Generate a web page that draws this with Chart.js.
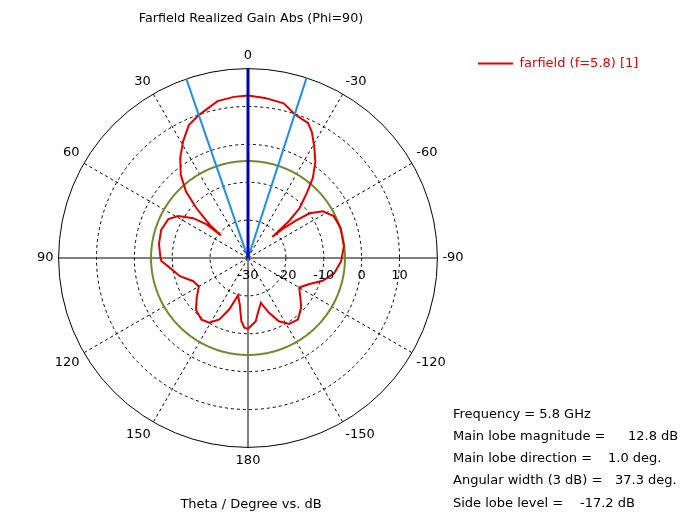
<!DOCTYPE html>
<html><head><meta charset="utf-8">
<script src="https://cdn.jsdelivr.net/npm/chart.js@4.4.1/dist/chart.umd.min.js"></script>
<style>html,body{margin:0;padding:0;background:#fff;}#wrap{width:684px;height:521px;position:relative;}</style>
</head><body><div id="wrap"><canvas id="c"></canvas></div>
<script>
// ---- data (theta in degrees, counter-clockwise positive; gain in dB) ----
const thetaDeg = [0,-6,-13,-18,-24,-27,-31,-35,-39,-42,-46,-48,-49,-50,-52,-54,-58,-64,-72,-83,-92,-100,-107,-113,-120,-127,-133,-141,-148,-154,-159,-164,-169,-173,
  180,177,174,170,165,160,155,149,143,135,128,120,113,105,96,92,90,81,72,64,59,54,51,50,49,46,43,39,34,29,24,19,11,5];
const gainDb   = [12.9,12.5,11.9,9.9,9.0,7.2,4.0,1.0,-2.8,-6.7,-11.1,-15.4,-21.5,-18.2,-14.0,-9.9,-6.7,-4.8,-4.3,-4.5,-5.4,-6.9,-9.4,-12.4,-14.4,-12.7,-10.8,-9.1,-9.5,-11.4,-14.5,-17.7,-15.7,-13.2,
  -11.3,-11.6,-13.2,-17.5,-19.8,-15.6,-12.1,-10.1,-9.6,-10.6,-12.8,-15.0,-14.3,-11.4,-8.8,-7.1,-6.9,-6.2,-5.9,-6.6,-8.5,-12.1,-15.8,-20.7,-16.6,-11.0,-6.0,-1.8,2.0,5.3,8.4,9.9,12.2,12.7];
const sideLobeLevelDb = -4.4;
const mainLobeDirDeg = [0];
const beamEdgeDeg = [19, -18];
const radialTicks = [-30, -20, -10, 0, 10];
const radialMin = -30, radialMax = 20, radialStep = 10;
const angleStep = 30;
const legendLabel = 'farfield (f=5.8) [1]';
const chartTitle = 'Farfield Realized Gain Abs (Phi=90)';
const axisTitle = 'Theta / Degree vs. dB';
const statLabels = ['Frequency = 5.8 GHz', 'Main lobe magnitude =', 'Main lobe direction =', 'Angular width (3 dB) =', 'Side lobe level ='];
const statValues = ['', '12.8 dB', '1.0 deg.', '37.3 deg.', '-17.2 dB'];

// ---- build library tables ----
const N = 360;
const idx = t => (((-Math.round(t)) % 360) + 360) % 360;
const labels = Array.from({length: N}, (_, i) => {
  const t = i === 0 ? 0 : (i < 180 ? -i : (i === 180 ? 180 : 360 - i));
  return String(t);
});
const redData = new Array(N).fill(null);
thetaDeg.forEach((t, k) => { redData[idx(t)] = gainDb[k]; });
const spike = list => { const a = new Array(N).fill(radialMin); list.forEach(t => { a[idx(t)] = radialMax; }); return a; };
const sllData = new Array(N).fill(sideLobeLevelDb);

const RED = '#e00000', LBLUE = '#1e8fe6', DBLUE = '#0000b4', GREEN = '#6e8b2e';
const FONT = 'DejaVu Sans';
Chart.defaults.font.family = FONT;
Chart.defaults.font.size = 13;
Chart.defaults.color = '#000';

const statY = [415, 437, 458.5, 481, 503.5];
const statValueX = [0, 628, 608, 615, 580];
const annot = {
  id: 'annot',
  afterDatasetsDraw(chart) {
    const s = chart.scales.r, ctx = chart.ctx;
    ctx.save();
    ctx.fillStyle = '#000';
    ctx.font = '13px "' + FONT + '"';
    ctx.textAlign = 'center';
    ctx.textBaseline = 'middle';
    radialTicks.forEach(v => ctx.fillText(String(v), s.xCenter + s.getDistanceFromCenterForValue(v), s.yCenter + 18));
    ctx.textAlign = 'left';
    statLabels.forEach((t, i) => {
      ctx.fillText(t, 453, statY[i]);
      if (statValues[i]) ctx.fillText(statValues[i], statValueX[i], statY[i]);
    });
    ctx.restore();
  }
};

new Chart(document.getElementById('c'), {
  type: 'radar',
  data: {
    labels: labels,
    datasets: [
      {label: 'dir', data: spike(mainLobeDirDeg), borderColor: DBLUE, borderWidth: 3, pointRadius: 0, fill: false},
      {label: 'beam', data: spike(beamEdgeDeg), borderColor: LBLUE, borderWidth: 2, pointRadius: 0, fill: false},
      {label: legendLabel, data: redData, borderColor: RED, backgroundColor: RED, borderWidth: 2, pointRadius: 0, fill: false, spanGaps: true, tension: 0},
      {label: 'sll', data: sllData, borderColor: GREEN, borderWidth: 2, pointRadius: 0, fill: false}
    ]
  },
  options: {
    responsive: true, maintainAspectRatio: false, animation: false, devicePixelRatio: 1,
    layout: {padding: {left: 32, right: 35.6, top: 0, bottom: 0}},
    plugins: {
      legend: {position: 'right', align: 'start', fullSize: false,
        labels: {usePointStyle: true, pointStyle: 'line', pointStyleWidth: 35, color: RED, padding: 8,
          font: {size: 13}, filter: item => item.datasetIndex === 2}},
      title: {display: true, text: chartTitle, position: 'top', fullSize: false, color: '#000',
        font: {size: 12.7, weight: 'normal'}, padding: {top: 11, bottom: 22.76}},
      subtitle: {display: true, text: axisTitle, position: 'bottom', fullSize: false, color: '#000',
        font: {size: 13, weight: 'normal'}, padding: {top: 28.2, bottom: 8.2}},
      tooltip: {enabled: false}
    },
    scales: {
      r: {
        min: radialMin, max: radialMax,
        ticks: {display: false, stepSize: radialStep},
        grid: {circular: true, color: '#000', lineWidth: 1},
        border: {dash: c => (c.tick && c.tick.value === radialMax) ? [] : [3, 3]},
        angleLines: {display: true, color: '#000',
          lineWidth: c => c.index % angleStep === 0 ? 1 : 0,
          borderDash: c => c.index % 90 === 0 ? [] : [3, 3]},
        pointLabels: {display: true, padding: 5, color: '#000', font: {size: 13},
          callback: (label, i) => i % angleStep === 0 ? label : ''}
      }
    }
  },
  plugins: [annot]
});
</script></body></html>
